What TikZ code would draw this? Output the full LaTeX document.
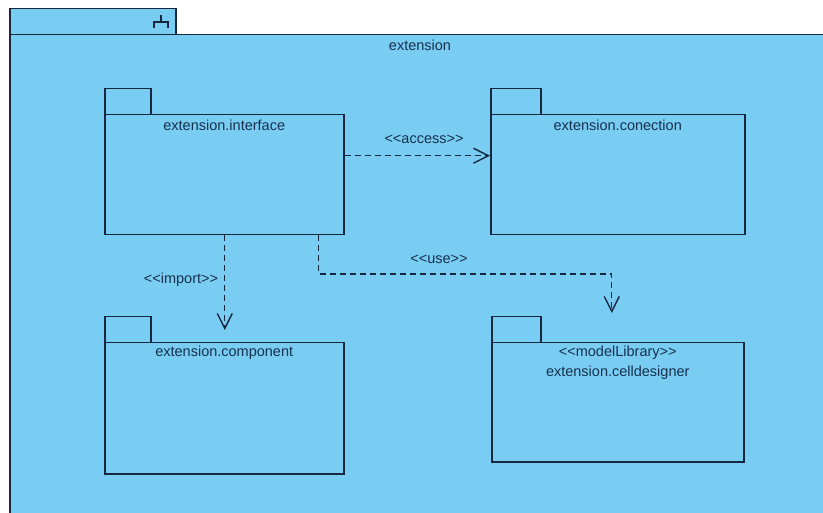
\documentclass[tikz,border=0pt]{standalone}
\usepackage{fontspec}
\setmainfont{Liberation Sans}
\usetikzlibrary{arrows.meta,calc}
\definecolor{pkgfill}{HTML}{79CDF3}
\definecolor{pkgline}{HTML}{182740}
\definecolor{pkgtext}{HTML}{17304D}
% stereotype in plain angle brackets, without the guillemet ligature
\newcommand{\stereo}[1]{<{}<#1>{}>}

\begin{document}
\begin{tikzpicture}[x=1pt,y=-1pt,
  pkgbox/.style={draw=pkgline, fill=pkgfill, line width=1.5pt, rectangle,
    inner sep=0pt, anchor=north west},
  pkgtxt/.style={text=pkgtext, font=\fontsize{14.5}{20}\selectfont, inner sep=0pt, align=center},
  pkgname/.style={pkgtxt, anchor=north},
  dep/.style={draw=pkgline, line width=1.4pt, dash pattern=on 6pt off 4pt,
    -{Straight Barb[length=15pt,width=15pt,line width=1.4pt]}},
  icon/.style={draw=pkgline, line width=1.2pt}]

\useasboundingbox (0,0) rectangle (823,513);
\fill[white] (0,0) rectangle (823,513);
\clip (0,0) rectangle (823,513);

% enclosing package "extension"
\node[pkgbox, minimum width=166pt, minimum height=26pt] (outertab) at (9,8) {};
\node[pkgbox, minimum width=830pt, minimum height=500pt] (outer) at (9,34) {};
\draw[icon] (154,28) -- (154,22) -- (168,22) -- (168,28);
\draw[icon] (161,22) -- (161,15);
\node[pkgtxt] (outerlbl) at (420,45) {extension};

% extension.interface
\node[pkgbox, minimum width=46pt, minimum height=26pt] (ifacetab) at (104,88) {};
\node[pkgbox, minimum width=239pt, minimum height=120pt] (iface) at (104,114) {};
\node[pkgname] (ifacelbl) at ($(iface.north)+(0,6)$) {extension.interface};

% extension.conection
\node[pkgbox, minimum width=50pt, minimum height=26pt] (conntab) at (490,88) {};
\node[pkgbox, minimum width=254pt, minimum height=120pt] (conn) at (490,114) {};
\node[pkgname] (connlbl) at ($(conn.north)+(0,6)$) {extension.conection};

% extension.component
\node[pkgbox, minimum width=46pt, minimum height=26pt] (comptab) at (104,316) {};
\node[pkgbox, minimum width=239pt, minimum height=131pt] (comp) at (104,342) {};
\node[pkgname] (complbl) at ($(comp.north)+(0,4)$) {extension.component};

% extension.celldesigner
\node[pkgbox, minimum width=49pt, minimum height=26pt] (celltab) at (491,316) {};
\node[pkgbox, minimum width=252pt, minimum height=119pt] (cell) at (491,342) {};
\node[pkgname] (celllbl) at ($(cell.north)+(0,4)$) {\stereo{modelLibrary}\\extension.celldesigner};

% dependencies
\draw[dep] ($(iface.east)+(0,-19)$) -- ($(conn.west)+(0,-19)$);
\node[pkgtxt] (accesslbl) at (424,139) {\stereo{access}};

\draw[dep, shorten >=12pt] ($(iface.south)+(0.5,0)$) -- ($(comp.north)+(0.5,0)$);
\node[pkgtxt] (importlbl) at (181,280) {\stereo{import}};

\draw[dep] ($(iface.south east)+(-26,0)$) |- ($(cell.north)+(-6,-68)$) -- ($(cell.north)+(-6,-29)$);
\node[pkgtxt] (uselbl) at (439,259) {\stereo{use}};
\end{tikzpicture}
\end{document}
